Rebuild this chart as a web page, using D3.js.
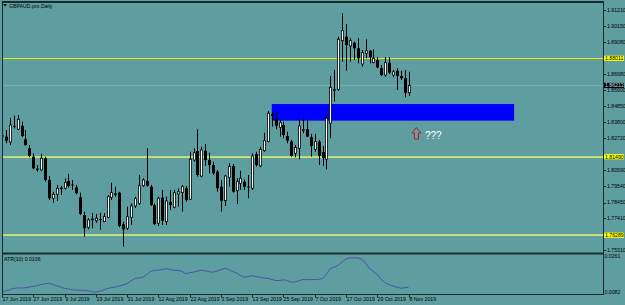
<!DOCTYPE html>
<html>
<head>
<meta charset="utf-8">
<script src="https://cdnjs.cloudflare.com/ajax/libs/d3/7.8.5/d3.min.js"></script>
<style>
  body { margin: 0; background: #5f9ea0; }
  svg { display: block; }
  text { font-family: "Liberation Sans", Arial, sans-serif; }
</style>
</head>
<body>
<svg id="chart" width="625" height="305"></svg>
<script>
const title = 'GBPAUD.pro,Daily';

// daily bars, 17 Jun 2019 .. 8 Nov 2019
const opens = [1.8290,1.8282,1.8247,1.8351,1.8331,1.8353,1.8264,1.8205,1.8149,1.8064,
  1.8061,1.8139,1.7995,1.7874,1.7900,1.7939,1.7940,1.7988,1.7964,1.7946,
  1.7880,1.7763,1.7681,1.7733,1.7725,1.7736,1.7719,1.7748,1.7880,1.7900,
  1.7911,1.7701,1.7675,1.7748,1.7823,1.7840,1.7957,1.7988,1.7950,1.7829,
  1.7708,1.7878,1.7719,1.7851,1.7814,1.7902,1.7911,1.7940,1.7867,1.8127,
  1.8187,1.8021,1.8189,1.8127,1.8094,1.8050,1.7950,1.7858,1.8013,1.8088,
  1.7924,1.7973,1.7984,1.7952,1.7940,1.8167,1.8088,1.8189,1.8249,1.8432,
  1.8404,1.8344,1.8359,1.8286,1.8249,1.8172,1.8205,1.8324,1.8331,1.8278,
  1.8198,1.8249,1.8180,1.8132,1.8370,1.8589,1.8596,1.8918,1.8944,1.8883,
  1.8904,1.8867,1.8763,1.8834,1.8851,1.8772,1.8790,1.8735,1.8690,1.8772,
  1.8690,1.8719,1.8684,1.8669,1.8573];
const highs = [1.8300,1.8326,1.8406,1.8421,1.8425,1.8381,1.8326,1.8227,1.8172,1.8094,
  1.8167,1.8149,1.8021,1.7917,1.7962,1.7955,1.8006,1.8035,1.7995,1.7962,
  1.7911,1.7785,1.7741,1.7776,1.7770,1.7778,1.7776,1.7895,1.7977,1.7950,
  1.7917,1.7719,1.7818,1.7840,1.7884,1.8028,1.8006,1.8205,1.7962,1.7840,
  1.7884,1.7929,1.7884,1.7929,1.7929,1.7940,1.7962,1.7955,1.8182,1.8205,
  1.8331,1.8215,1.8233,1.8176,1.8116,1.8061,1.7995,1.8028,1.8105,1.8101,
  1.8006,1.8056,1.7999,1.8028,1.8172,1.8182,1.8215,1.8308,1.8452,1.8447,
  1.8447,1.8392,1.8381,1.8315,1.8260,1.8227,1.8392,1.8404,1.8397,1.8300,
  1.8300,1.8260,1.8220,1.8425,1.8684,1.8724,1.8944,1.9099,1.9028,1.8934,
  1.8911,1.8934,1.8856,1.8927,1.8856,1.8861,1.8808,1.8757,1.8808,1.8808,
  1.8724,1.8735,1.8719,1.8724,1.8712];
const lows = [1.8273,1.8238,1.8227,1.8336,1.8326,1.8280,1.8220,1.8145,1.8066,1.8050,
  1.8056,1.7984,1.7862,1.7844,1.7856,1.7895,1.7933,1.7946,1.7929,1.7900,
  1.7763,1.7619,1.7668,1.7675,1.7712,1.7664,1.7716,1.7741,1.7862,1.7884,
  1.7681,1.7553,1.7664,1.7697,1.7809,1.7829,1.7950,1.7950,1.7823,1.7697,
  1.7690,1.7697,1.7697,1.7796,1.7807,1.7818,1.7785,1.7851,1.7862,1.8116,
  1.8017,1.8013,1.8088,1.8039,1.8028,1.7917,1.7785,1.7823,1.7950,1.7911,
  1.7836,1.7929,1.7929,1.7874,1.7929,1.8083,1.8079,1.8182,1.8245,1.8348,
  1.8331,1.8282,1.8271,1.8238,1.8149,1.8145,1.8132,1.8304,1.8278,1.8149,
  1.8182,1.8094,1.8088,1.8066,1.8271,1.8514,1.8586,1.8779,1.8719,1.8779,
  1.8790,1.8768,1.8745,1.8801,1.8768,1.8768,1.8735,1.8684,1.8679,1.8697,
  1.8675,1.8591,1.8657,1.8543,1.8551];
const closes = [1.8283,1.8255,1.8359,1.8346,1.8397,1.8286,1.8227,1.8154,1.8072,1.8068,
  1.8139,1.7995,1.7874,1.7900,1.7940,1.7942,1.7977,1.7955,1.7960,1.7907,
  1.7770,1.7675,1.7730,1.7736,1.7741,1.7732,1.7752,1.7884,1.7911,1.7903,
  1.7690,1.7668,1.7752,1.7823,1.7871,1.7957,1.7995,1.7957,1.7829,1.7703,
  1.7874,1.7725,1.7856,1.7829,1.7911,1.7917,1.7950,1.7862,1.8132,1.8176,
  1.8028,1.8194,1.8127,1.8094,1.8039,1.7940,1.7858,1.8021,1.8083,1.7917,
  1.7984,1.8006,1.7950,1.7949,1.8154,1.8094,1.8198,1.8255,1.8437,1.8419,
  1.8353,1.8374,1.8293,1.8255,1.8154,1.8211,1.8353,1.8328,1.8282,1.8220,
  1.8249,1.8154,1.8141,1.8404,1.8609,1.8593,1.8927,1.8984,1.8889,1.8918,
  1.8867,1.8801,1.8838,1.8851,1.8808,1.8801,1.8741,1.8690,1.8772,1.8706,
  1.8712,1.8684,1.8669,1.8573,1.8621];

// ATR(10) sub window
const atr = [0.0081,0.0087,0.0094,0.0100,0.0102,0.0102,0.0103,0.0107,0.0110,0.0114,
  0.0119,0.0123,0.0125,0.0120,0.0113,0.0107,0.0100,0.0097,0.0093,0.0092,
  0.0091,0.0090,0.0088,0.0083,0.0081,0.0086,0.0092,0.0099,0.0104,0.0107,
  0.0112,0.0117,0.0124,0.0137,0.0149,0.0152,0.0155,0.0169,0.0184,0.0190,
  0.0191,0.0194,0.0198,0.0194,0.0190,0.0189,0.0185,0.0173,0.0178,0.0181,
  0.0186,0.0190,0.0187,0.0183,0.0180,0.0186,0.0193,0.0200,0.0194,0.0184,
  0.0176,0.0164,0.0155,0.0159,0.0163,0.0159,0.0155,0.0152,0.0150,0.0144,
  0.0139,0.0139,0.0143,0.0139,0.0130,0.0132,0.0139,0.0145,0.0143,0.0144,
  0.0144,0.0145,0.0149,0.0171,0.0199,0.0206,0.0216,0.0231,0.0247,0.0251,
  0.0252,0.0252,0.0246,0.0225,0.0198,0.0184,0.0169,0.0144,0.0128,0.0118,
  0.0112,0.0106,0.0101,0.0103,0.0106];
const atrRange = [0.0082, 0.0261];

// a date label every 8 bars
const dateLabels = ['17 Jun 2019','27 Jun 2019','9 Jul 2019','19 Jul 2019','31 Jul 2019',
  '12 Aug 2019','22 Aug 2019','3 Sep 2019','13 Sep 2019','25 Sep 2019',
  '7 Oct 2019','17 Oct 2019','29 Oct 2019','8 Nov 2019'];
const dateStep = 8;

const priceTicks = [1.91210,1.90150,1.89080,1.88020,1.86980,1.85900,1.84850,1.83800,
  1.82720,1.81650,1.80590,1.79540,1.78450,1.77410,1.76360,1.75310];

// horizontal lines and their labels
const levels = [1.88011, 1.81490, 1.76289];
const levelLabels = ['1.88011', '1.81490', '1.76289'];
const bid = 1.8621;
const bidLabel = '1.86213';

// blue rectangle: bar from/to, price top/bottom
const zoneBars = [69, 131];
const zonePrices = [1.8498, 1.8388];

// arrow object
const arrowBar = 106;
const arrowPrice = 1.8266;
const arrowText = '???';

const svg = d3.select('#chart');
const frame = '#1b2a2a';
const L = 2, R = 603, T = 2, mainB = 252.5, subB = 294;

const x = d3.scaleLinear().domain([0, 104]).range([2, 408.6]);
const y = d3.scaleLinear().domain([1.75310, 1.91210]).range([250, 10]);
const ya = d3.scaleLinear().domain(atrRange).range([292, 256]);
const px = v => Math.round(v) + 0.5;

svg.append('rect').attr('width', 625).attr('height', 305).attr('fill', '#5f9ea0');

svg.append('defs').append('clipPath').attr('id', 'clipMain')
  .append('rect').attr('x', L + 1).attr('y', T + 1).attr('width', R - L - 1).attr('height', mainB - T - 1);

const main = svg.append('g').attr('clip-path', 'url(#clipMain)');

// zone
main.append('rect')
  .attr('x', x(zoneBars[0]))
  .attr('width', x(zoneBars[1]) - x(zoneBars[0]))
  .attr('y', y(zonePrices[0]))
  .attr('height', y(zonePrices[1]) - y(zonePrices[0]))
  .attr('fill', '#0000ff');

// bid line
main.append('line')
  .attr('x1', L).attr('x2', R)
  .attr('y1', px(y(bid))).attr('y2', px(y(bid)))
  .attr('stroke', '#78b0b2').attr('stroke-width', 1);

// level lines
levels.forEach((v, k) => {
  const yy = px(y(v));
  if (k > 0) {
    main.append('line').attr('x1', L).attr('x2', R).attr('y1', yy - 1).attr('y2', yy - 1)
      .attr('stroke', '#9fd4ee').attr('stroke-width', 1);
  }
  main.append('line').attr('x1', L).attr('x2', R).attr('y1', yy).attr('y2', yy)
    .attr('stroke', '#e8e800').attr('stroke-width', 1);
});

// candles
const bars = d3.range(opens.length).map(i => ({ i, o: opens[i], h: highs[i], l: lows[i], c: closes[i] }));

main.selectAll('.wick').data(bars).join('line')
  .attr('class', 'wick')
  .attr('x1', d => px(x(d.i))).attr('x2', d => px(x(d.i)))
  .attr('y1', d => y(d.h)).attr('y2', d => y(d.l))
  .attr('stroke', '#000').attr('stroke-width', 1);

main.selectAll('.body').data(bars).join('rect')
  .attr('class', 'body')
  .attr('x', d => px(x(d.i)) - (d.c >= d.o ? 1 : 1.5))
  .attr('width', d => d.c >= d.o ? 2 : 3)
  .attr('y', d => y(Math.max(d.o, d.c)))
  .attr('height', d => Math.max(0.8, Math.abs(y(d.o) - y(d.c))))
  .attr('fill', d => d.c >= d.o ? '#fff' : '#000')
  .attr('stroke', d => d.c >= d.o ? '#000' : 'none')
  .attr('stroke-width', 0.8);

// arrow + text
const ax = x(arrowBar), ay = y(arrowPrice);
main.append('path')
  .attr('d', `M${ax},${ay - 11.5} L${ax - 4.5},${ay - 6} L${ax - 2},${ay - 6} L${ax - 2},${ay} L${ax + 2},${ay} L${ax + 2},${ay - 6} L${ax + 4.5},${ay - 6} Z`)
  .attr('fill', 'none').attr('stroke', '#c81414').attr('stroke-width', 1);
main.append('text')
  .attr('x', ax + 8.5).attr('y', ay - 0.5)
  .attr('font-size', 10).attr('fill', '#fff')
  .text(arrowText);

// title
svg.append('path').attr('d', 'M3,4 L7,4 L5,6.5 Z').attr('fill', '#000');
svg.append('text').attr('x', 9).attr('y', 7.6).attr('font-size', 5.2).attr('fill', '#000').text(title);

// ATR line
const atrLine = d3.line().x((d, i) => x(i)).y(d => ya(d));
svg.append('path').datum(atr)
  .attr('d', atrLine)
  .attr('fill', 'none').attr('stroke', '#4c53a6').attr('stroke-width', 1);
svg.append('text').attr('x', 4).attr('y', 261).attr('font-size', 5.2).attr('fill', '#000')
  .text('ATR(10) ' + atr[atr.length - 1].toFixed(4));

// frame
svg.append('line').attr('x1', L + 0.5).attr('x2', L + 0.5).attr('y1', T).attr('y2', subB).attr('stroke', frame);
svg.append('line').attr('x1', R + 0.5).attr('x2', R + 0.5).attr('y1', T).attr('y2', subB + 0.5).attr('stroke', frame);
svg.append('line').attr('x1', L).attr('x2', R + 1).attr('y1', T).attr('y2', T).attr('stroke', frame).attr('stroke-width', 2);
svg.append('line').attr('x1', L).attr('x2', R + 1).attr('y1', mainB + 1).attr('y2', mainB + 1).attr('stroke', frame).attr('stroke-width', 2);
svg.append('line').attr('x1', L).attr('x2', R + 1).attr('y1', subB + 0.5).attr('y2', subB + 0.5).attr('stroke', frame);

// price axis; labels hidden behind a level label are left out
const pa = svg.append('g');
const freeTicks = priceTicks.filter(t => levels.every(v => Math.abs(y(t) - y(v)) > 5));
pa.selectAll('.pt').data(priceTicks).join('line')
  .attr('x1', R).attr('x2', R + 3)
  .attr('y1', d => px(y(d))).attr('y2', d => px(y(d)))
  .attr('stroke', frame);
pa.selectAll('.pl').data(freeTicks).join('text')
  .attr('x', R + 4).attr('y', d => y(d) + 1.8)
  .attr('font-size', 5.2).attr('fill', '#000')
  .text(d => d.toFixed(5));

levels.forEach((v, k) => {
  pa.append('rect').attr('x', R + 1).attr('y', y(v) - 2.6).attr('width', 20).attr('height', 5.2).attr('fill', '#ffff00');
  pa.append('text').attr('x', R + 2).attr('y', y(v) + 1.8).attr('font-size', 5.2).attr('fill', '#000').text(levelLabels[k]);
});
pa.append('rect').attr('x', R + 1).attr('y', y(bid) - 2.6).attr('width', 20).attr('height', 5.2).attr('fill', '#000');
pa.append('text').attr('x', R + 2).attr('y', y(bid) + 1.8).attr('font-size', 5.2).attr('fill', '#dde').text(bidLabel);

// ATR scale labels
atrRange.slice().reverse().forEach(v => {
  pa.append('text').attr('x', R + 1.5).attr('y', ya(v) + 2).attr('font-size', 5.2).attr('fill', '#000').text(v.toFixed(4));
});

// date axis
const da = svg.append('g');
dateLabels.forEach((s, k) => {
  const xx = px(x(k * dateStep));
  da.append('line').attr('x1', xx).attr('x2', xx).attr('y1', subB + 1).attr('y2', subB + 3.5).attr('stroke', frame);
  da.append('text').attr('x', xx).attr('y', 300.5).attr('font-size', 5.2).attr('fill', '#000').text(s);
});
</script>
</body>
</html>
